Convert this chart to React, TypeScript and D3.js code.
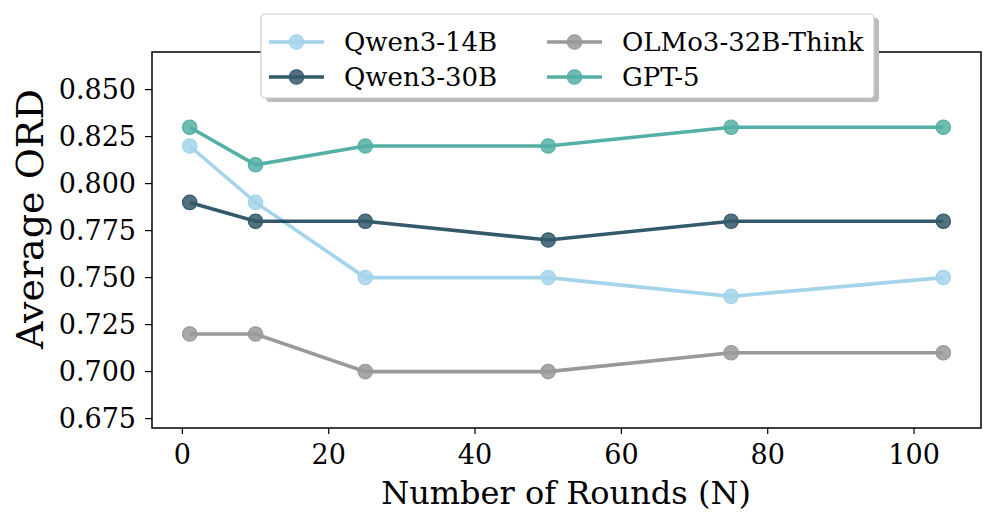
import * as d3 from 'd3';

const ROUNDS = [1, 10, 25, 50, 75, 104];
const QWEN14 = [0.82, 0.79, 0.75, 0.75, 0.74, 0.75];
const QWEN30 = [0.79, 0.78, 0.78, 0.77, 0.78, 0.78];
const OLMO = [0.72, 0.72, 0.7, 0.7, 0.71, 0.71];
const GPT5 = [0.83, 0.81, 0.82, 0.82, 0.83, 0.83];
const X_TICKS = [0, 20, 40, 60, 80, 100];
const Y_TICKS = [0.675, 0.7, 0.725, 0.75, 0.775, 0.8, 0.825, 0.85];

const SERIES = [
  { name: 'Qwen3-14B', values: QWEN14, color: '#8ecae6' },
  { name: 'Qwen3-30B', values: QWEN30, color: '#023047' },
  { name: 'OLMo3-32B-Think', values: OLMO, color: '#808080' },
  { name: 'GPT-5', values: GPT5, color: '#2a9d8f' },
];

const W = 998;
const H = 526;
const FONT = '"DejaVu Serif", serif';

export default function App() {
  const left = 152, right = 981, top = 52, bottom = 428;
  const x = d3.scaleLinear().domain([-4.15, 109.15]).range([left, right]);
  const y = d3.scaleLinear().domain([0.67, 0.87]).range([bottom, top]);
  const line = d3.line<number>().x((_, i) => x(ROUNDS[i])).y(d => y(d));

  const legendPos = [
    { lx: 269, ly: 42 },
    { lx: 269, ly: 77 },
    { lx: 547, ly: 42 },
    { lx: 547, ly: 77 },
  ];

  return (
    <svg width={W} height={H} style={{ position: 'absolute', left: 0, top: 0 }} fontFamily={FONT}>
      <rect width={W} height={H} fill="#fff" />

      {SERIES.map(s => (
        <g key={s.name} opacity={0.8}>
          <path d={line(s.values) || ''} fill="none" stroke={s.color} strokeWidth={3.6} />
          {s.values.map((v, i) => (
            <circle key={i} cx={x(ROUNDS[i])} cy={y(v)} r={7.2} fill={s.color} fillOpacity={0.85}
              stroke={s.color} strokeWidth={1.2} />
          ))}
        </g>
      ))}

      <rect x={left} y={top} width={right - left} height={bottom - top} fill="none" stroke="#000" strokeWidth={1.5} />

      {X_TICKS.map(t => (
        <g key={t} transform={`translate(${x(t)},${bottom})`}>
          <line y2={6} stroke="#000" strokeWidth={1.2} />
          <text y={27} dy="0.35em" textAnchor="middle" fontSize={27}>{t}</text>
        </g>
      ))}
      {Y_TICKS.map(t => (
        <g key={t} transform={`translate(${left},${y(t)})`}>
          <line x2={-7} stroke="#000" strokeWidth={1.2} />
          <text x={-16} dy="0.35em" textAnchor="end" fontSize={27}>{t.toFixed(3)}</text>
        </g>
      ))}

      <text x={(left + right) / 2 - 0.5} y={493} dy="0.35em" textAnchor="middle" fontSize={32}>Number of Rounds (N)</text>
      <text transform={`translate(30,219) rotate(-90)`} dy="0.35em" textAnchor="middle" fontSize={38}>Average ORD</text>

      <rect x={266} y={18} width={613} height={84} rx={4} fill="#bbb" />
      <rect x={261} y={14} width={613} height={84} rx={4} fill="#fff" stroke="#ccc" strokeWidth={1.2} />
      {SERIES.map((s, i) => {
        const p = legendPos[i];
        return (
          <g key={s.name} transform={`translate(${p.lx},${p.ly})`}>
            <g opacity={0.8}>
              <line x1={0} x2={55} stroke={s.color} strokeWidth={3.6} />
              <circle cx={27.5} r={7.2} fill={s.color} fillOpacity={0.85} stroke={s.color} strokeWidth={1.2} />
            </g>
            <text x={75} dy="0.35em" fontSize={26}>{s.name}</text>
          </g>
        );
      })}
    </svg>
  );
}
